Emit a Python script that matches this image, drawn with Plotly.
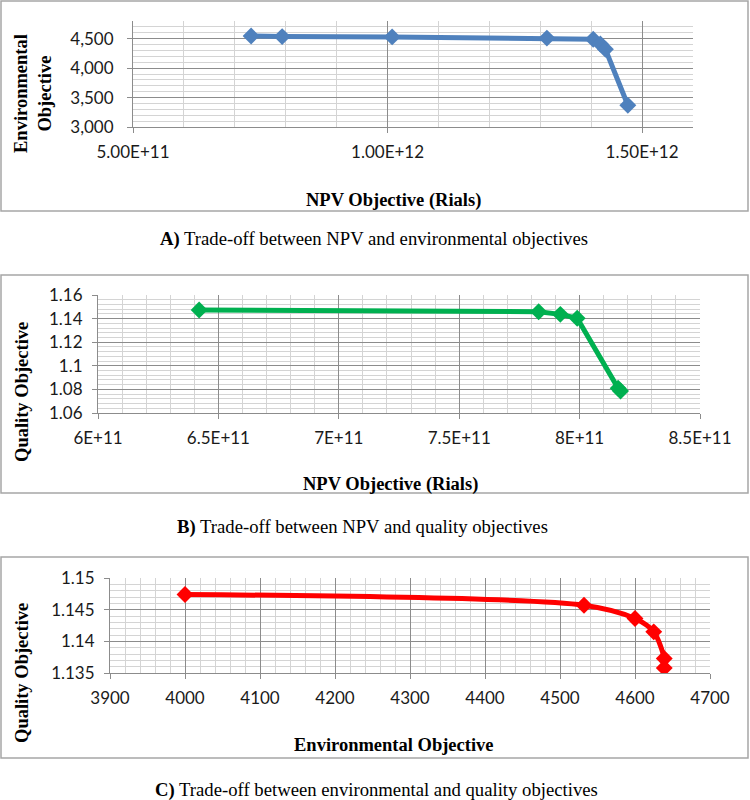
import plotly.graph_objects as go

# ---------------- data ----------------
npv_a = [7.32e11, 7.93e11, 1.009e12, 1.313e12, 1.404e12, 1.418e12, 1.428e12, 1.472e12]
env_a = [4545, 4535, 4530, 4510, 4490, 4410, 4320, 3370]
a_xticks = [5e11, 1e12, 1.5e12]
a_xlabels = ["5.00E+11", "1.00E+12", "1.50E+12"]
a_yticks = [3000, 3500, 4000, 4500]

npv_b = [6.42e11, 7.83e11, 7.92e11, 7.99e11, 8.16e11, 8.17e11]
qual_b = [1.1473, 1.1458, 1.1436, 1.1403, 1.081, 1.0786]
b_xticks = [6e11, 6.5e11, 7e11, 7.5e11, 8e11, 8.5e11]
b_xlabels = ["6E+11", "6.5E+11", "7E+11", "7.5E+11", "8E+11", "8.5E+11"]
b_yticks = [1.06, 1.08, 1.1, 1.12, 1.14, 1.16]
b_ylabels = ["1.06", "1.08", "1.1", "1.12", "1.14", "1.16"]

env_c = [4000, 4532, 4600, 4625, 4639, 4639]
qual_c = [1.1474, 1.1457, 1.1436, 1.1415, 1.1373, 1.1358]
c_xticks = [3900, 4000, 4100, 4200, 4300, 4400, 4500, 4600, 4700]
c_yticks = [1.135, 1.14, 1.145, 1.15]
c_ylabels = ["1.135", "1.14", "1.145", "1.15"]

W, H = 750, 800
TICKFONT = dict(family="Lato, Liberation Sans, sans-serif", size=17, color="#1a1a1a")
SERIF = "Liberation Serif, Times New Roman, serif"
MAJOR = "#8c8c8c"
MINOR = "#d4d4d4"


def px(x):
    return x / W


def py(y):
    return 1 - y / H


def axis_common():
    return dict(
        showline=True, linecolor=MAJOR, linewidth=1,
        ticks="outside", ticklen=5, tickcolor=MAJOR,
        showgrid=True, gridcolor=MAJOR, gridwidth=1,
        zeroline=False, tickfont=TICKFONT, fixedrange=True,
        automargin=False,
    )


fig = go.Figure()

fig.add_trace(go.Scatter(
    x=npv_a, y=env_a, mode="lines+markers", xaxis="x", yaxis="y",
    line=dict(color="#4F81BD", width=5),
    marker=dict(symbol="diamond", size=13, color="#4F81BD"),
    showlegend=False))
fig.add_trace(go.Scatter(
    x=npv_b, y=qual_b, mode="lines+markers", xaxis="x2", yaxis="y2",
    line=dict(color="#00B050", width=5),
    marker=dict(symbol="diamond", size=13, color="#00B050"),
    showlegend=False))
fig.add_trace(go.Scatter(
    x=env_c, y=qual_c, mode="lines+markers", xaxis="x3", yaxis="y3",
    line=dict(color="#FF0000", width=5, shape="spline", smoothing=0.8),
    marker=dict(symbol="diamond", size=13, color="#FF0000"),
    showlegend=False))

# Axes A
xa = axis_common()
xa.update(domain=[px(133), px(693)], range=[5e11, 1.6e12], tickvals=a_xticks, ticktext=a_xlabels,
          anchor="y", ticklabelstandoff=5,
          minor=dict(dtick=1e11, tick0=5e11, showgrid=True, gridcolor=MINOR, gridwidth=1))
ya = axis_common()
ya.update(domain=[py(127), py(21)], range=[3000, 4800], tickvals=a_yticks, tickformat=",d",
          anchor="x", ticklabelstandoff=10,
          minor=dict(dtick=100, tick0=3000, showgrid=True, gridcolor=MINOR, gridwidth=1))

# Axes B
xb = axis_common()
xb.update(domain=[px(98), px(700)], range=[6e11, 8.5e11], tickvals=b_xticks, ticktext=b_xlabels,
          anchor="y2", ticklabelstandoff=5,
          minor=dict(dtick=1e10, tick0=6e11, showgrid=True, gridcolor=MINOR, gridwidth=1))
yb = axis_common()
yb.update(domain=[py(413), py(295)], range=[1.06, 1.16], tickvals=b_yticks, ticktext=b_ylabels,
          anchor="x2", ticklabelstandoff=6,
          minor=dict(dtick=0.004, tick0=1.06, showgrid=True, gridcolor=MINOR, gridwidth=1))

# Axes C
xc = axis_common()
xc.update(domain=[px(110), px(710)], range=[3900, 4700], tickvals=c_xticks,
          anchor="y3", ticklabelstandoff=5,
          minor=dict(dtick=20, tick0=3900, showgrid=True, gridcolor=MINOR, gridwidth=1))
yc = axis_common()
yc.update(domain=[py(673), py(578)], range=[1.135, 1.15], tickvals=c_yticks, ticktext=c_ylabels,
          anchor="x3", ticklabelstandoff=6,
          minor=dict(dtick=0.001, tick0=1.135, showgrid=True, gridcolor=MINOR, gridwidth=1))

# Boxes around each chart
boxes = [(1, 1, 748, 211), (1, 275, 748, 493), (1, 557, 748, 758)]
shapes = [dict(type="rect", xref="paper", yref="paper",
               x0=px(x0), x1=px(x1), y0=py(y1), y1=py(y0),
               line=dict(color="#a6a6a6", width=1.5), fillcolor="rgba(0,0,0,0)", layer="below")
          for (x0, y0, x1, y1) in boxes]

TITLEFONT = dict(family=SERIF, size=18.5, color="#000000")
CAPFONT = dict(family=SERIF, size=18.7, color="#000000")


def ann(text, x, y, font, angle=0):
    return dict(text=text, x=px(x), y=py(y), xref="paper", yref="paper",
                showarrow=False, font=font, textangle=angle,
                xanchor="center", yanchor="middle")


annotations = [
    ann("<b>NPV Objective (Rials)</b>", 393, 200, TITLEFONT),
    ann("<b>Environmental<br>Objective</b>", 33, 94, TITLEFONT, -90),
    ann("<b>A)</b> Trade-off between NPV and environmental objectives", 374, 239, CAPFONT),
    ann("<b>NPV Objective (Rials)</b>", 390, 485, TITLEFONT),
    ann("<b>Quality Objective</b>", 22, 392, TITLEFONT, -90),
    ann("<b>B)</b> Trade-off between NPV and quality objectives", 362, 527, CAPFONT),
    ann("<b>Environmental Objective</b>", 394, 745, TITLEFONT),
    ann("<b>Quality Objective</b>", 22, 673, TITLEFONT, -90),
    ann("<b>C)</b> Trade-off between environmental and quality objectives", 376, 790, CAPFONT),
]

fig.update_layout(
    width=W, height=H,
    margin=dict(l=0, r=0, t=0, b=0, pad=0),
    paper_bgcolor="white", plot_bgcolor="white",
    xaxis=xa, yaxis=ya, xaxis2=xb, yaxis2=yb, xaxis3=xc, yaxis3=yc,
    shapes=shapes, annotations=annotations,
    showlegend=False,
)

fig.write_html("out.html", config={"displayModeBar": False},
               post_script="document.body.style.margin='0';document.body.style.overflow='hidden';")
